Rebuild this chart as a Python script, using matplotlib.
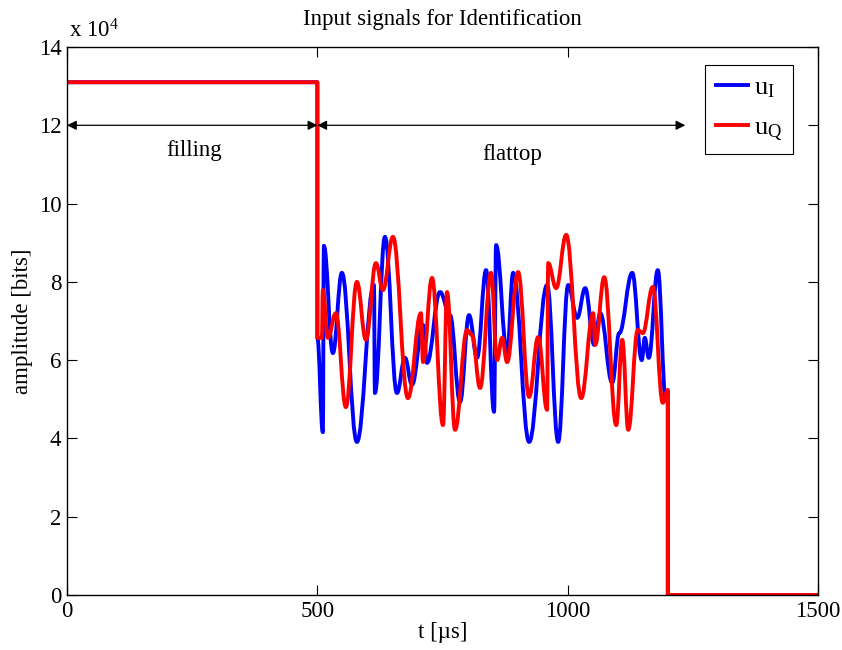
import numpy as np
import matplotlib
matplotlib.use('Agg')
import matplotlib.pyplot as plt
from matplotlib.path import Path
from matplotlib.patches import PathPatch
from matplotlib.lines import Line2D

plt.rcParams['font.family'] = ['Liberation Serif', 'DejaVu Serif']
plt.rcParams['mathtext.fontset'] = 'custom'
plt.rcParams['mathtext.rm'] = 'Liberation Serif'
plt.rcParams['mathtext.it'] = 'Liberation Serif:italic'

# signals: time [us], amplitude [x 1e4 bits]
t_I = [0, 500, 500, 511, 513, 531, 549, 579, 613, 615, 635, 659, 675, 689,
       711, 719, 745, 765, 785, 803, 819, 837, 853, 857, 879, 891, 923, 959,
       981, 1001, 1019, 1035, 1053, 1065, 1089, 1103, 1129, 1148, 1154, 1162,
       1180, 1196, 1200, 1200, 1500]
u_I = [13.1, 13.1, 6.57, 4.16, 8.92, 6.18, 8.23, 3.91, 7.92, 5.16, 9.15,
       5.16, 6.06, 5.37, 6.90, 5.93, 7.74, 7.15, 4.93, 7.15, 6.06, 8.30, 4.68,
       8.94, 6.18, 8.23, 3.91, 7.92, 3.91, 7.92, 7.08, 7.84, 6.39, 7.20, 5.42,
       6.69, 8.23, 6.00, 6.57, 6.06, 8.30, 4.98, 5.20, 0, 0]

t_Q = [0, 500, 500, 509, 511, 521, 537, 557, 579, 597, 617, 631, 651, 681,
       707, 711, 729, 751, 759, 775, 799, 809, 825, 847, 859, 869, 879, 901,
       923, 941, 959, 961, 977, 997, 1027, 1051, 1055, 1073, 1097, 1109, 1121,
       1140, 1150, 1170, 1190, 1200, 1200, 1500]
u_Q = [13.1, 13.1, 6.57, 6.57, 7.79, 6.57, 7.20, 4.80, 8.00, 6.52, 8.48,
       7.79, 9.15, 5.03, 7.20, 5.95, 8.10, 4.34, 7.74, 4.22, 6.77, 6.64, 5.29,
       8.23, 6.00, 6.57, 5.95, 8.25, 5.06, 6.59, 4.73, 8.48, 7.84, 9.20, 5.03,
       7.20, 6.39, 8.12, 4.34, 6.52, 4.22, 6.77, 6.69, 7.87, 4.91, 5.24, 0, 0]

yticks = [0, 2, 4, 6, 8, 10, 12, 14]
xticks = [0, 500, 1000, 1500]


def smooth_path(t, v, k=0.4):
    # smooth curve through the read points, flat tangent at each point
    verts = [(t[0], v[0])]
    codes = [Path.MOVETO]
    for i in range(len(t) - 1):
        dx = t[i + 1] - t[i]
        verts += [(t[i] + k * dx, v[i]), (t[i + 1] - k * dx, v[i + 1]),
                  (t[i + 1], v[i + 1])]
        codes += [Path.CURVE4] * 3
    return Path(verts, codes)


fig = plt.figure(figsize=(8.42, 6.5), dpi=100)
ax = fig.add_axes([0.0796, 0.0846, 0.8919, 0.8431])

ax.add_patch(PathPatch(smooth_path(t_I, u_I), facecolor='none',
                       edgecolor='#0000ff', lw=2.8, capstyle='butt',
                       joinstyle='round'))
ax.add_patch(PathPatch(smooth_path(t_Q, u_Q), facecolor='none',
                       edgecolor='#ff0000', lw=2.8, capstyle='butt',
                       joinstyle='round'))

# phase arrows
ax.annotate('', xy=(0, 12), xytext=(500, 12),
            arrowprops=dict(arrowstyle='<|-|>', color='k', lw=0.9,
                            mutation_scale=14, shrinkA=0, shrinkB=0))
ax.annotate('', xy=(500, 12), xytext=(1235, 12),
            arrowprops=dict(arrowstyle='<|-|>', color='k', lw=0.9,
                            mutation_scale=14, shrinkA=0, shrinkB=0))
ax.text(253, 11.35, 'filling', ha='center', va='center', fontsize=16.5)
ax.text(889, 11.25, 'flattop', ha='center', va='center', fontsize=16.5)

ax.set_xlim(0, 1500)
ax.set_ylim(0, 14)
ax.set_xticks(xticks)
ax.set_yticks(yticks)
ax.set_xticklabels([str(x) for x in xticks])
ax.set_yticklabels([str(y) for y in yticks])
ax.tick_params(direction='in', top=True, right=True, length=7, width=0.8,
               labelsize=16.5, pad=4)
for s in ax.spines.values():
    s.set_linewidth(1.0)

ax.text(0.003, 1.008, r'x 10$^{4}$', transform=ax.transAxes, ha='left',
        va='bottom', fontsize=16.5)
ax.set_title('Input signals for Identification', fontsize=16.5, pad=16)
ax.set_xlabel('t [µs]', fontsize=16.5, labelpad=0)
ax.set_ylabel('amplitude [bits]', fontsize=16.5, labelpad=4)

handles = [Line2D([], [], color='#0000ff', lw=2.8),
           Line2D([], [], color='#ff0000', lw=2.8)]
leg = ax.legend(handles, [r'u$_\mathrm{I}$', r'u$_\mathrm{Q}$'],
                loc='upper right', bbox_to_anchor=(0.967, 0.967),
                borderaxespad=0, fontsize=19, handlelength=1.2,
                handletextpad=0.25, labelspacing=0.62, borderpad=0.4,
                fancybox=False, edgecolor='k', framealpha=1)
leg.get_frame().set_linewidth(0.8)

fig.savefig('out.png', dpi=100)
